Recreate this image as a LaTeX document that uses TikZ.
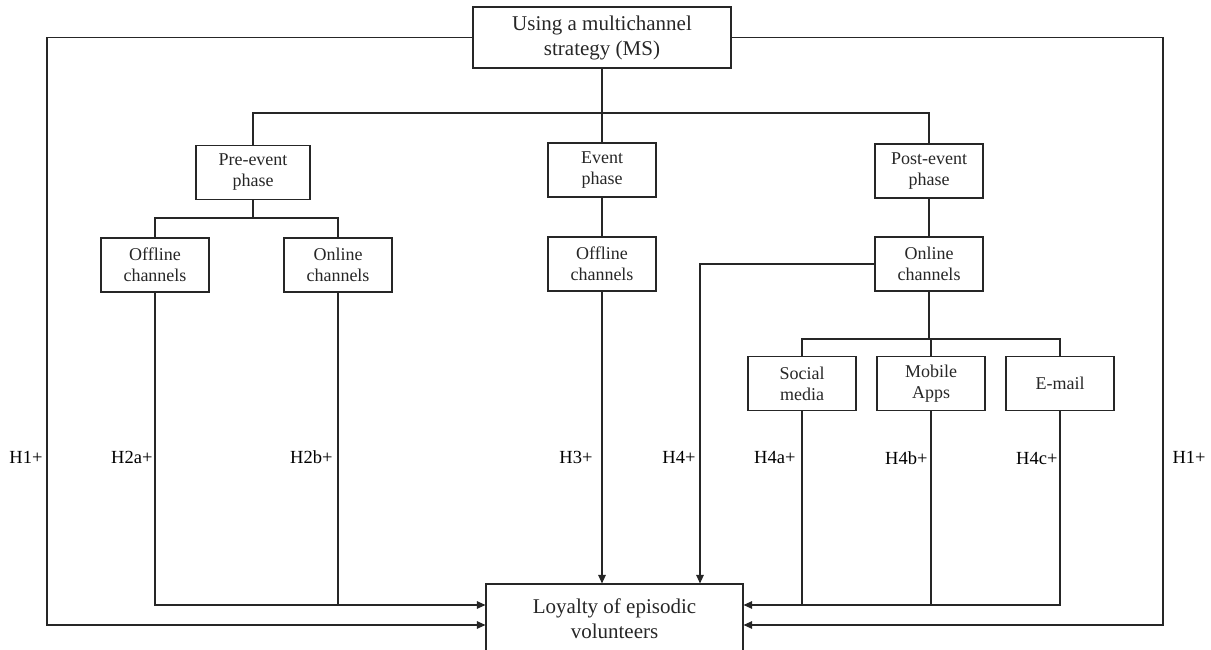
\documentclass[tikz,border=0pt]{standalone}
\usepackage{fontspec}
\setmainfont{Liberation Serif}
\usetikzlibrary{arrows.meta}

\begin{document}
\begin{tikzpicture}[x=1pt, y=-1pt, line width=1.1pt, color=black!85,
    >={Triangle[length=8.5pt, width=7.5pt]}]

      \useasboundingbox (0,0) rectangle (1211,650);

      \begin{scope}[every node/.style={draw, align=center, inner sep=0pt,
          minimum width=108pt, minimum height=54pt,
          font=\fontsize{18}{21}\selectfont}]
        \node (ms)   at (602,37.5) [minimum width=258pt, minimum height=61pt,
                     font=\fontsize{21}{25}\selectfont] {Using a multichannel\\strategy (MS)};
        \node (pre)  at (253,172.5) [minimum width=114pt] {Pre-event\\phase};
        \node (evt)  at (602,170)   {Event\\phase};
        \node (post) at (929,171)   {Post-event\\phase};
        \node (off1) at (155,265)   {Offline\\channels};
        \node (on1)  at (338,265)   {Online\\channels};
        \node (off2) at (602,264)   {Offline\\channels};
        \node (on2)  at (929,264)   {Online\\channels};
        \node (soc)  at (802,383.5) {Social\\media};
        \node (mob)  at (931,383.5) {Mobile\\Apps};
        \node (mail) at (1060,383.5) {E-mail};
        \node (loy)  at (614.5,619) [minimum width=257pt, minimum height=70pt,
                     font=\fontsize{21}{25}\selectfont] {Loyalty of episodic\\volunteers};
      \end{scope}

      \coordinate (msbar)   at (602,113);
      \coordinate (prebar)  at (253,218);
      \coordinate (postbar) at (929,339);
      \coordinate (h1l)     at (47,625);
      \coordinate (h1r)     at (1163,625);
      \coordinate (mid)     at (0,605);

      % tree
      \draw (ms) -- (evt);
      \draw (pre.north) |- (msbar) -| (post.north);
      \draw (pre) -- (prebar);
      \draw (off1.north) |- (prebar) -| (on1.north);
      \draw (evt) -- (off2);
      \draw (post) -- (on2);
      \draw (on2) -- (postbar);
      \draw (soc.north) |- (postbar) -| (mail.north);
      \draw (mob.north) -- (mob.north |- postbar);

      % hypotheses
      \draw[->] (ms.west) -| (h1l) -- (loy.west |- h1l);
      \draw[->] (ms.east) -| (h1r) -- (loy.east |- h1r);
      \draw[->] (off1.south) |- (loy.west |- mid);
      \draw (on1.south) -- (on1.south |- mid);
      \draw[->] (off2) -- (loy.north -| off2);
      \draw[->] (on2.west) -| (loy.north -| 700,0);
      \draw[->] (mail.south) |- (loy.east |- mid);
      \draw (soc.south) -- (soc.south |- mid);
      \draw (mob.south) -- (mob.south |- mid);

      \begin{scope}[every node/.style={inner sep=0pt, text=black,
          font=\fontsize{18.5}{21}\selectfont}]
        \node[anchor=east] (l1)  at (43,457)   {H1+};
        \node[anchor=east] (l2)  at (153,457)  {H2a+};
        \node[anchor=east] (l3)  at (333,457)  {H2b+};
        \node[anchor=east] (l4)  at (593,457)  {H3+};
        \node[anchor=east] (l5)  at (696,457)  {H4+};
        \node[anchor=east] (l6)  at (796,457)  {H4a+};
        \node[anchor=east] (l7)  at (928,458)  {H4b+};
        \node[anchor=east] (l8)  at (1058,458) {H4c+};
        \node[anchor=west] (l9)  at (1172,457) {H1+};
      \end{scope}

    \end{tikzpicture}
\end{document}
